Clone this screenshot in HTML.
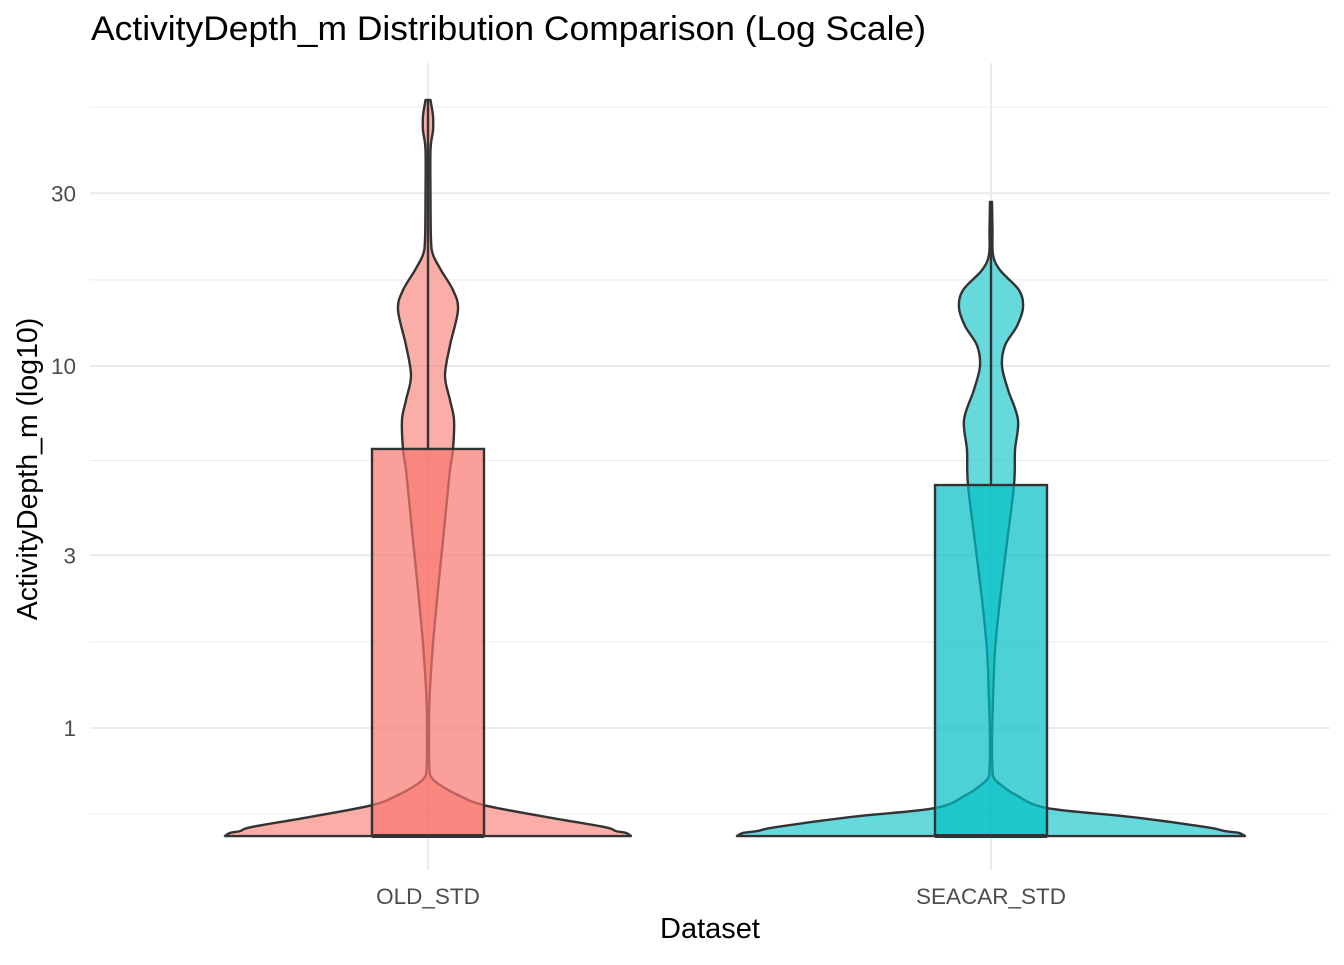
<!DOCTYPE html>
<html><head><meta charset="utf-8"><style>
body{margin:0;background:#fff;font-family:"Liberation Sans",sans-serif}
</style></head><body>
<svg id="c" width="1344" height="960" xmlns="http://www.w3.org/2000/svg">
<text x="91" y="40" font-size="34" textLength="835" lengthAdjust="spacingAndGlyphs" fill="#000">ActivityDepth_m Distribution Comparison (Log Scale)</text>
<g id="grid"></g>
<g id="marks"></g>
<g id="axes"></g>
<text x="710" y="938" font-size="29" text-anchor="middle" fill="#000">Dataset</text>
<text transform="translate(37,469) rotate(-90)" font-size="28.5" text-anchor="middle" fill="#000">ActivityDepth_m (log10)</text>
</svg>
<script>
const categories = ["OLD_STD", "SEACAR_STD"];
const colors = ["#F8766D", "#00BFC4"];
const majorTicks = [1, 3, 10, 30];
const minorTicks = [0.579, 1.73, 5.48, 17.3, 51.9];
const oldDepths = [0.503,0.513,0.519,0.533,0.568,0.612,0.653,0.696,0.727,0.765,0.927,1.195,1.64,2.26,3.10,4.27,5.16,5.9,7.1,8.05,9.4,11.4,14.3,16.2,18.4,20.3,22.3,28.8,39.6,44.7,49.1,53.2,54.3];
const oldWidths = [203,198,188,176,118,56,30,12,4,1.5,1,1.5,4.5,9,14,19,22,25,26,22,17,22,30,25,13,5,3,2.5,2.5,5,5,3,2.5];
const seaDepths = [0.503,0.513,0.519,0.533,0.568,0.601,0.653,0.696,0.727,0.765,0.927,1.195,1.64,2.26,3.10,4.69,5.85,7.1,8.6,10,11.4,12.9,14.5,16.2,18.4,20.3,23.7,28.4];
const seaWidths = [254,248,234,214,140,56,25,10,3,1.5,1,2,4,9,15,23,24,27,17,11,14,26,32,28,9,2,1.5,1];
const boxQ1 = [0.503, 0.503];
const boxMedian = [0.503, 0.503];
const boxQ3 = [5.9, 4.69];
const whiskerMax = [54.3, 28.4];

const NS = "http://www.w3.org/2000/svg";
const y = v => 728 - Math.log10(v) * 362;
const x = i => [428, 991][i];
function el(tag, attrs, parent) {
  const e = document.createElementNS(NS, tag);
  for (const k in attrs) e.setAttribute(k, attrs[k]);
  parent.appendChild(e); return e;
}
const grid = document.getElementById('grid'), marks = document.getElementById('marks'), axes = document.getElementById('axes');
minorTicks.forEach(t => {
  const l = el('line', {x1: 90, x2: 1330, y1: y(t), y2: y(t), stroke: '#ebebeb', 'stroke-width': 1}, grid);
  
  
});
majorTicks.forEach(t => {
  const l = el('line', {x1: 90, x2: 1330, y1: y(t), y2: y(t), stroke: '#ebebeb', 'stroke-width': 2}, grid);
  
  
  const tx = el('text', {x: 76, y: y(t) + 8, 'font-size': 22.5, fill: '#4d4d4d', 'text-anchor': 'end'}, axes);
  tx.textContent = t;
  
  
});
categories.forEach((c, i) => {
  const l = el('line', {x1: x(i), x2: x(i), y1: 63, y2: 870, stroke: '#ebebeb', 'stroke-width': 2}, grid);
  
  
  const tx = el('text', {x: x(i), y: 904, 'font-size': 22.5, fill: '#4d4d4d', 'text-anchor': 'middle'}, axes);
  tx.textContent = c;
  
  
});
function smoothRest(pts) {
  let d = '';
  for (let i = 0; i < pts.length - 1; i++) {
    const p0 = pts[Math.max(0, i - 1)], p1 = pts[i], p2 = pts[i + 1], p3 = pts[Math.min(pts.length - 1, i + 2)];
    const c1 = [p1[0] + (p2[0] - p0[0]) / 6, p1[1] + (p2[1] - p0[1]) / 6];
    const c2 = [p2[0] - (p3[0] - p1[0]) / 6, p2[1] - (p3[1] - p1[1]) / 6];
    d += ` C${c1[0]},${c1[1]} ${c2[0]},${c2[1]} ${p2[0]},${p2[1]}`;
  }
  return d;
}
const depthSets = [oldDepths, seaDepths], widthSets = [oldWidths, seaWidths];
categories.forEach((c, i) => {
  const cx = x(i), D = depthSets[i], W = widthSets[i];
  const right = D.map((d, k) => [cx + W[k], y(d)]);
  const left = D.map((d, k) => [cx - W[k], y(d)]).reverse();
  const bot = y(D[0]);
  const path = `M${cx - W[0]},${bot} L${cx + W[0]},${bot}` + smoothRest(right) + ` L${left[0][0]},${left[0][1]}` + smoothRest(left) + ' Z';
  const v = el('path', {d: path, fill: colors[i], 'fill-opacity': 0.6, stroke: '#333', 'stroke-width': 2.4, 'stroke-linejoin': 'round'}, marks);
  
  
  const wk = el('line', {x1: cx, x2: cx, y1: y(boxQ3[i]), y2: y(whiskerMax[i]), stroke: '#333', 'stroke-width': 2.4}, marks);
  
  
  const bx = el('rect', {x: cx - 56, width: 112, y: y(boxQ3[i]), height: y(boxQ1[i]) - y(boxQ3[i]), fill: colors[i], 'fill-opacity': 0.7, stroke: '#333', 'stroke-width': 2.4}, marks);
  
  
  const md = el('line', {x1: cx - 56, x2: cx + 56, y1: y(boxMedian[i]), y2: y(boxMedian[i]), stroke: '#333', 'stroke-width': 4}, marks);
  
  
});
</script>
</body></html>
